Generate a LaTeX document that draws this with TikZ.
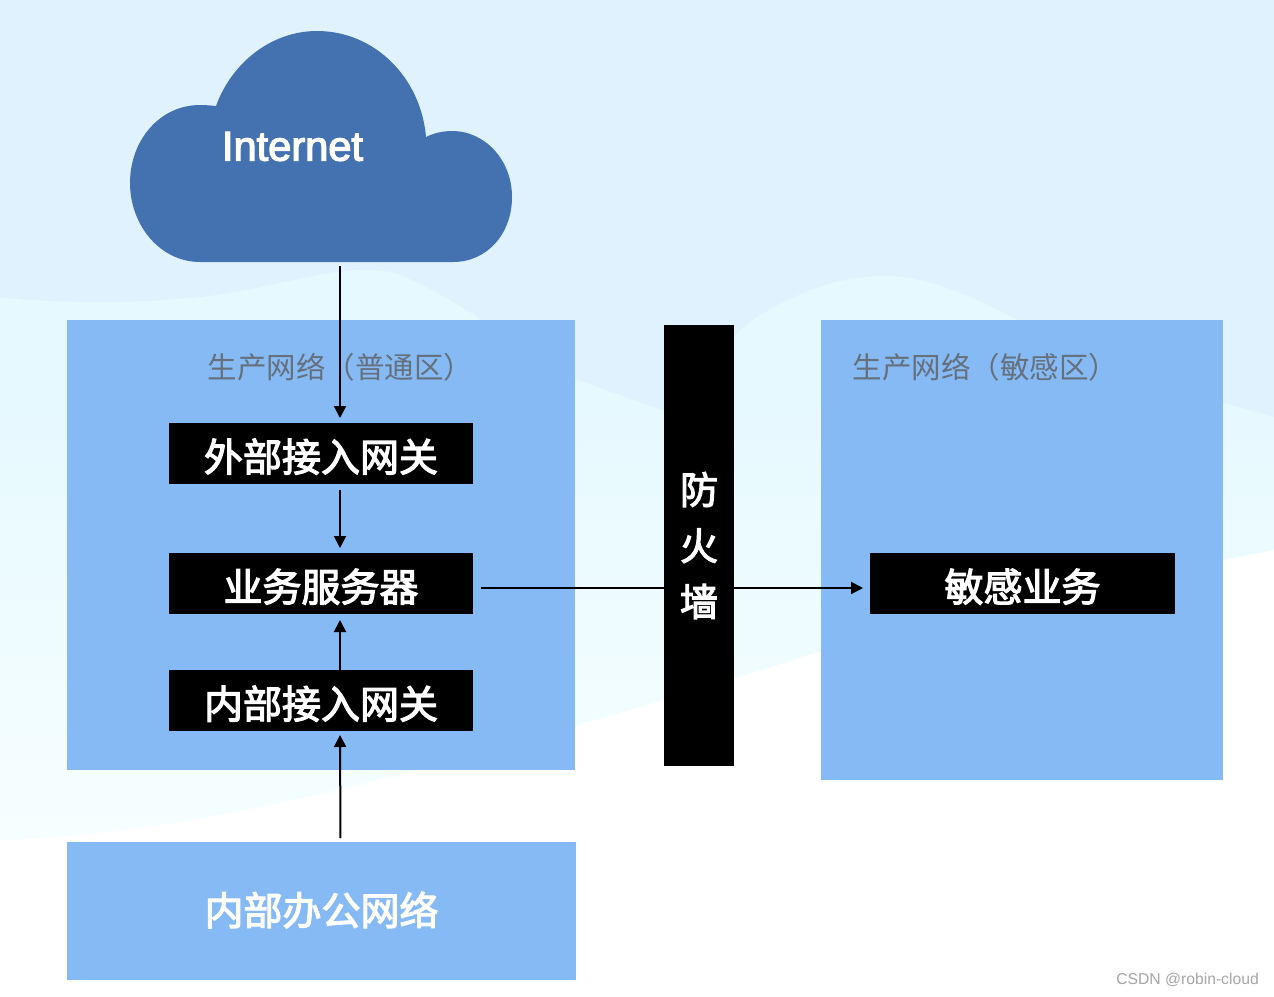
\documentclass[tikz,border=0pt]{standalone}
\usepackage{fontspec}
\newfontfamily\cjk{Noto Sans CJK SC}
\newfontfamily\cjkm[FakeBold=3]{Noto Sans CJK SC}
\newfontfamily\latinf{Liberation Sans}
\newfontfamily\latinm[FakeBold=3]{Liberation Sans}
\usetikzlibrary{arrows.meta}
\definecolor{bgtop}{HTML}{DFF2FE}
\definecolor{bgmid}{HTML}{E6F9FF}
\definecolor{bglow}{HTML}{F8FFFF}
\definecolor{panel}{HTML}{85BAF4}
\definecolor{cloudc}{HTML}{4472B0}
\definecolor{titlec}{HTML}{66707C}
\definecolor{markc}{HTML}{A6A6A6}
\newcommand{\low}[1]{\raisebox{0pt}[36pt][0pt]{#1}}
\newcommand{\lowb}[1]{\raisebox{0pt}[28pt][0pt]{#1}}
\tikzset{
  panelbox/.style={fill=panel,draw=none,inner sep=0pt,outer sep=0pt,anchor=north west},
  blackbox/.style={fill=black,text=white,inner sep=0pt,outer sep=0pt,anchor=north west,font=\cjkm\fontsize{39}{39}\selectfont},
  paneltitle/.style={text=titlec,inner sep=0pt,anchor=west,font=\cjk\fontsize{29.5}{30}\selectfont},
  conn/.style={draw=black,line width=2pt,-{Triangle[length=12pt,width=12pt]}}
}
\begin{document}
\begin{tikzpicture}[x=1pt,y=-1pt]
\useasboundingbox (0,0) rectangle (1274,996);
% background
\fill[white] (0,0) rectangle (1274,996);
\fill[bgtop] (0,0) rectangle (1274,700);
\begin{scope}
\clip (0,298) .. controls (70,303) and (130,304) .. (200,297)
  .. controls (280,288) and (340,262) .. (390,272)
  .. controls (440,285) and (520,350) .. (578,380)
  -- (690,420)
  .. controls (700,390) and (720,340) .. (760,315)
  .. controls (810,285) and (850,276) .. (885,276)
  .. controls (930,276) and (975,298) .. (1013,318)
  .. controls (1090,360) and (1180,392) .. (1274,417)
  -- (1274,996) -- (0,996) -- cycle;
\shade[top color=bgmid,bottom color=bglow] (0,400) rectangle (1274,880);
\fill[bgmid] (0,260) rectangle (1274,400.5);
\end{scope}
\fill[white] (0,840) .. controls (200,835) and (420,770) .. (577,725)
  .. controls (640,708) and (760,670) .. (860,640)
  .. controls (1000,600) and (1150,575) .. (1274,550)
  -- (1274,996) -- (0,996) -- cycle;
% panels
\node[panelbox,minimum width=508pt,minimum height=450pt] (zone) at (67,320) {};
\node[panelbox,minimum width=402pt,minimum height=460pt] (szone) at (821,320) {};
\node[panelbox,minimum width=509pt,minimum height=138pt,text=white,font=\cjkm\fontsize{39}{39}\selectfont] (office) at (67,842) {\lowb{内部办公网络}};
\node[paneltitle] (ztitle) at (207.5,367) {生产网络（普通区）};
\node[paneltitle] (stitle) at (852.5,367) {生产网络（敏感区）};
% cloud
\node[inner sep=0pt,outer sep=0pt,minimum width=382pt,minimum height=231pt] (cloud) at (321,146.5) {};
\fill[cloudc] (200,262)
  .. controls (160,262) and (130,225) .. (130,183)
  .. controls (130,140) and (160,105) .. (200,105)
  .. controls (206,105) and (211,105.5) .. (216,106)
  .. controls (232,62) and (272,31) .. (317,31)
  .. controls (375,31) and (421,78) .. (426,137)
  .. controls (434,133) and (443,131) .. (452,131)
  .. controls (485,131) and (512,160) .. (512,197)
  .. controls (512,234) and (487,262) .. (453,262) -- cycle;
\node[text=white,inner sep=0pt,font=\latinm\fontsize{41.6}{42}\selectfont] (inet) at (292.5,146.5) {Internet};
% boxes
\node[blackbox,minimum width=304pt,minimum height=61pt] (gw) at (169,423) {\low{外部接入网关}};
\node[blackbox,minimum width=304pt,minimum height=61pt] (svc) at (169,553) {\low{业务服务器}};
\node[blackbox,minimum width=304pt,minimum height=61pt] (igw) at (169,670) {\low{内部接入网关}};
\node[blackbox,minimum width=305pt,minimum height=61pt] (sens) at (870,553) {\low{敏感业务}};
% connectors
\draw[conn,shorten <=4pt,shorten >=5pt] ([xshift=19pt]cloud.south) -- ([xshift=19pt]gw.north);
\draw[conn,shorten <=6pt,shorten >=5pt] ([xshift=19pt]gw.south) -- ([xshift=19pt]svc.north);
\draw[conn,shorten >=6pt] ([xshift=19pt]igw.north) -- ([xshift=19pt]svc.south);
\draw[conn,shorten <=4pt,shorten >=4pt] ([xshift=19pt]office.north) -- ([xshift=19pt]igw.south);
\draw[conn,shorten <=8pt,shorten >=7pt] ([yshift=-4.5pt]svc.east) -- ([yshift=-4.5pt]sens.west);
% firewall on top of the line
\node[blackbox,minimum width=70pt,minimum height=441pt,align=center,font=\cjkm\fontsize{38}{56}\selectfont] (fw) at (664,325) {防\\火\\墙};
% watermark
\node[text=markc,inner sep=0pt,anchor=east,font=\latinf\fontsize{15.7}{16}\selectfont] (mark) at (1259,980) {CSDN @robin-cloud};
\end{tikzpicture}
\end{document}
